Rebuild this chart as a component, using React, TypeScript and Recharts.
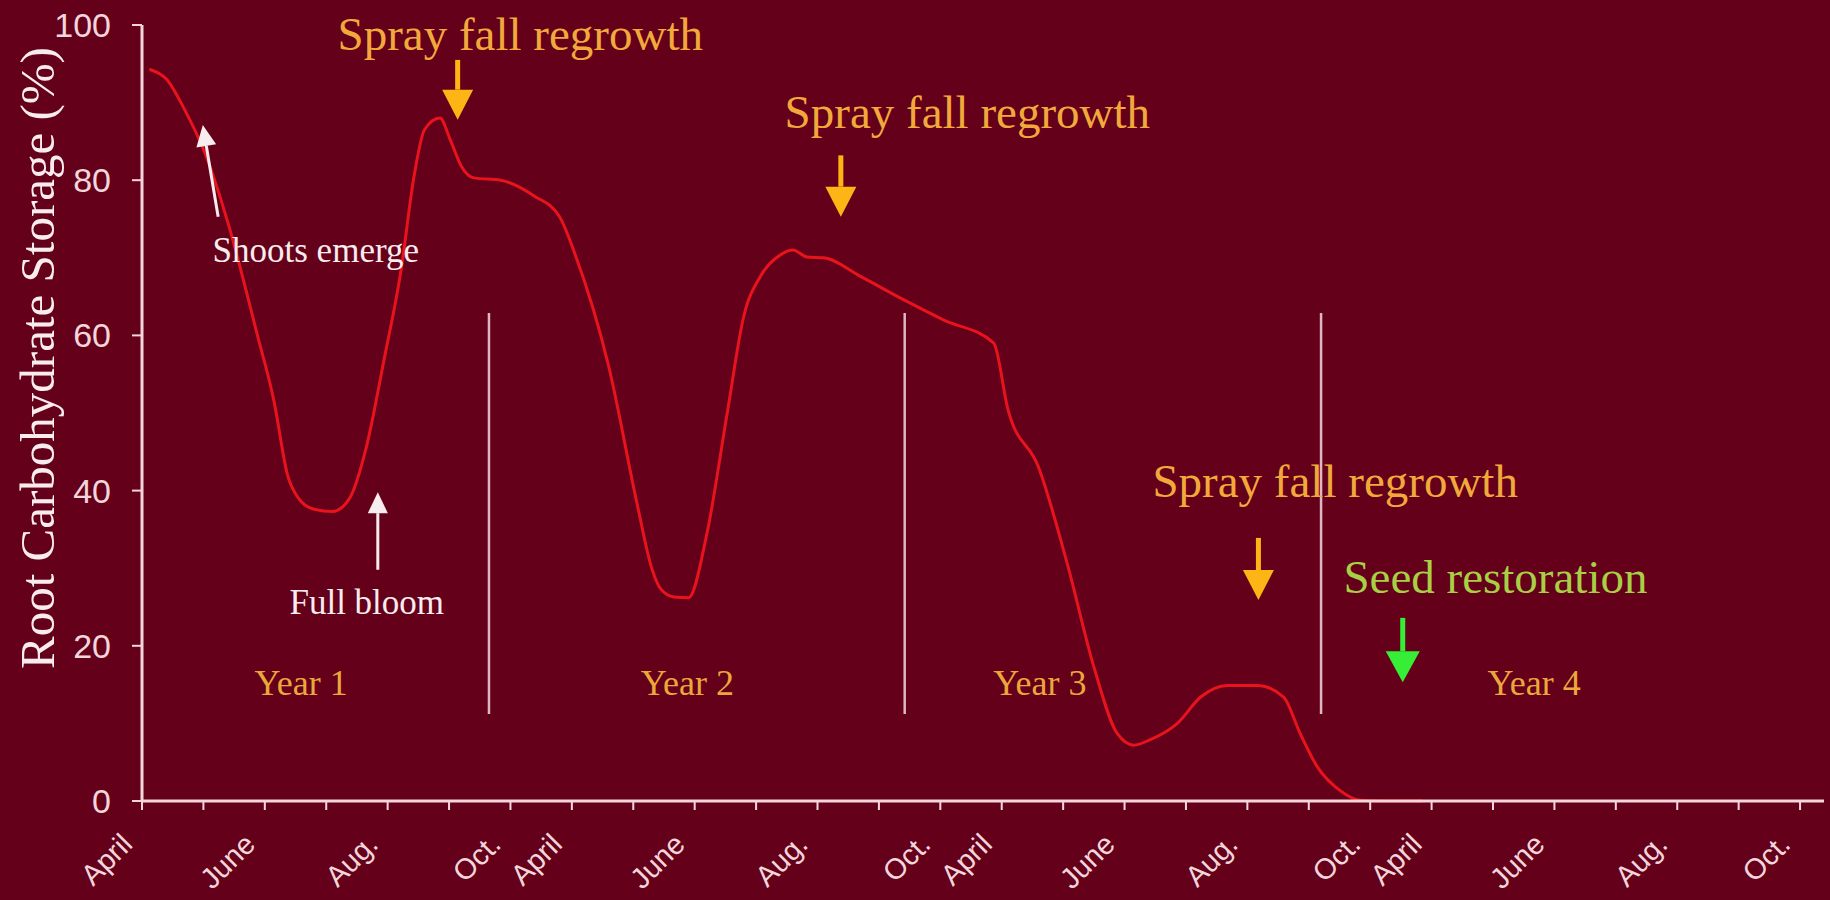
import React from 'react';
import { LineChart, Line, XAxis, YAxis, ReferenceLine, ReferenceDot } from 'recharts';

// x = months from April of year 1 (Oct -> next April counts as one step)
const monthPos = [0.12, 0.4, 0.7, 1.05, 1.4, 1.88, 2.15, 2.37, 2.55, 2.8, 3.1, 3.38, 3.65, 3.94, 4.22, 4.43, 4.6, 4.85, 5.03, 5.2, 5.4, 5.84, 6.38, 6.8, 7.05, 7.6, 8.07, 8.3, 8.45, 8.66, 8.9, 9.2, 9.53, 9.8, 10.07, 10.4, 10.6, 10.83, 11.1, 11.7, 12.4, 13.05, 13.87, 14.1, 14.6, 15.07, 15.5, 15.88, 16.15, 16.42, 16.86, 17.24, 17.67, 18.16, 18.59, 18.86, 19.14, 19.5, 19.84, 20.2, 20.85];
const storage = [94.3, 93.0, 89.0, 83.0, 74.5, 60.0, 51.5, 42.0, 39.0, 37.6, 37.3, 39.0, 45.5, 56.8, 68.5, 80.5, 86.5, 88.0, 85.0, 81.8, 80.3, 80.0, 78.0, 75.3, 70.5, 56.0, 38.0, 30.0, 27.3, 26.3, 26.2, 34.5, 50.0, 62.5, 67.6, 70.4, 71.0, 70.1, 70.0, 67.6, 64.6, 62.0, 59.0, 50.5, 43.0, 30.5, 17.3, 8.7, 7.2, 7.9, 10.0, 13.4, 14.9, 14.9, 13.4, 8.7, 4.4, 1.4, 0.1, 0, 0];

const monthTicks = [0, 1, 2, 3, 4, 5, 6, 7, 8, 9, 10, 11, 12, 13, 14, 15, 16, 17, 18, 19, 20, 21, 22, 23, 24, 25, 26, 27];
const monthLabels = [
  'April', '', 'June', '', 'Aug.', '', 'Oct.',
  'April', '', 'June', '', 'Aug.', '', 'Oct.',
  'April', '', 'June', '', 'Aug.', '', 'Oct.',
  'April', '', 'June', '', 'Aug.', '', 'Oct.',
];
const storageTicks = [0, 20, 40, 60, 80, 100];

const yearNames = ['Year 1', 'Year 2', 'Year 3', 'Year 4'];
const yearCenters = [2.59, 8.88, 14.62, 22.67];
const yearDividers = [5.65, 12.42, 19.2];

// annotations, anchored in chart units
const notes = [
  { text: 'Spray fall regrowth', x: 6.16, y: 96.8, kind: 'spray' },
  { text: 'Spray fall regrowth', x: 13.44, y: 86.7, kind: 'spray' },
  { text: 'Spray fall regrowth', x: 19.43, y: 39.2, kind: 'spray' },
  { text: 'Seed restoration', x: 22.04, y: 26.8, kind: 'seed' },
  { text: 'Shoots emerge', x: 2.83, y: 69.5, kind: 'stage' },
  { text: 'Full bloom', x: 3.66, y: 24.1, kind: 'stage' },
];
const arrows = [
  { from: [5.14, 95.5], to: [5.14, 87.8], kind: 'spray' },
  { from: [11.38, 83.2], to: [11.38, 75.3], kind: 'spray' },
  { from: [18.18, 33.9], to: [18.18, 25.9], kind: 'spray' },
  { from: [20.53, 23.6], to: [20.53, 15.3], kind: 'seed' },
  { from: [1.24, 75.3], to: [0.99, 87.1], kind: 'stage' },
  { from: [3.84, 29.8], to: [3.84, 39.8], kind: 'stage' },
];

const BG = '#65001A';
const AXIS = '#F3D6DC';
const SERIF = '"Liberation Serif", "Times New Roman", serif';
const SANS = '"Liberation Sans", Arial, sans-serif';

const noteStyle: Record<string, { fill: string; size: number }> = {
  spray: { fill: '#F2A93B', size: 47 },
  seed: { fill: '#A9CF45', size: 47 },
  stage: { fill: '#F8ECEE', size: 35 },
};
const arrowStyle: Record<string, { color: string; shaft: number; headW: number; headL: number }> = {
  spray: { color: '#FDB515', shaft: 5, headW: 31, headL: 30 },
  seed: { color: '#35EE35', shaft: 5, headW: 34, headL: 31 },
  stage: { color: '#F8ECEE', shaft: 3, headW: 20, headL: 21 },
};

const data = monthPos.map((m, i) => ({ m, v: storage[i] }));

function MonthTick(props: any) {
  const { x, y, payload } = props;
  const label = monthLabels[payload.value] ?? '';
  return (
    <text
      x={0}
      y={0}
      transform={`translate(${x - 8},${y + 34}) rotate(-45)`}
      textAnchor="end"
      fill={AXIS}
      fontSize={29}
      fontFamily={SANS}
    >
      {label}
    </text>
  );
}

const arrowShape = (kind: string) => (p: any) => {
  const { color, shaft, headW, headL } = arrowStyle[kind];
  const { x1, y1, x2, y2 } = p;
  const dx = x2 - x1;
  const dy = y2 - y1;
  const len = Math.hypot(dx, dy) || 1;
  const ux = dx / len;
  const uy = dy / len;
  const bx = x2 - ux * headL;
  const by = y2 - uy * headL;
  const nx = -uy * headW / 2;
  const ny = ux * headW / 2;
  return (
    <g>
      <line x1={x1} y1={y1} x2={bx} y2={by} stroke={color} strokeWidth={shaft} />
      <polygon points={`${x2},${y2} ${bx + nx},${by + ny} ${bx - nx},${by - ny}`} fill={color} />
    </g>
  );
};

const textShape = (text: string, fill: string, size: number) => (p: any) => (
  <text x={p.cx} y={p.cy} textAnchor="middle" fill={fill} fontSize={size} fontFamily={SERIF}>
    {text}
  </text>
);

const YTitle = () => (
  <text
    x={54}
    y={358}
    transform="rotate(-90 54 358)"
    textAnchor="middle"
    fill="#F8ECEE"
    fontSize={49}
    fontFamily={SERIF}
  >
    Root Carbohydrate Storage (%)
  </text>
);

export default function App() {
  return (
    <div style={{ position: 'absolute', left: 0, top: 0, width: 1830, height: 900, background: BG }}>
      <LineChart width={1830} height={900} data={data} margin={{ top: 25, right: 6, bottom: 0, left: 0 }}>
        <XAxis
          dataKey="m"
          type="number"
          domain={[0, 27.39]}
          ticks={monthTicks}
          interval={0}
          height={99}
          tick={<MonthTick />}
          tickSize={9}
          axisLine={{ stroke: AXIS, strokeWidth: 3 }}
          tickLine={{ stroke: AXIS, strokeWidth: 2 }}
          allowDataOverflow
        />
        <YAxis
          type="number"
          domain={[0, 100]}
          ticks={storageTicks}
          width={142}
          tickSize={10}
          tickMargin={21}
          tick={{ fill: AXIS, fontSize: 34, fontFamily: SANS }}
          axisLine={{ stroke: AXIS, strokeWidth: 3 }}
          tickLine={{ stroke: AXIS, strokeWidth: 2 }}
          label={{ content: YTitle }}
        />
        {yearDividers.map((x, i) => (
          <ReferenceLine
            key={`div-${i}`}
            segment={[{ x, y: 11.2 }, { x, y: 62.9 }]}
            stroke="#DDB8C2"
            strokeWidth={2.5}
          />
        ))}
        <Line
          dataKey="v"
          type="monotone"
          stroke="#E8131C"
          strokeWidth={3}
          dot={false}
          isAnimationActive={false}
        />
        {yearNames.map((name, i) => (
          <ReferenceDot
            key={`yr-${i}`}
            x={yearCenters[i]}
            y={13.7}
            r={1}
            shape={textShape(name, '#EBA83A', 36)}
          />
        ))}
        {notes.map((n, i) => (
          <ReferenceDot
            key={`note-${i}`}
            x={n.x}
            y={n.y}
            r={1}
            shape={textShape(n.text, noteStyle[n.kind].fill, noteStyle[n.kind].size)}
          />
        ))}
        {arrows.map((a, i) => (
          <ReferenceLine
            key={`arr-${i}`}
            segment={[{ x: a.from[0], y: a.from[1] }, { x: a.to[0], y: a.to[1] }]}
            shape={arrowShape(a.kind)}
          />
        ))}
      </LineChart>
    </div>
  );
}
